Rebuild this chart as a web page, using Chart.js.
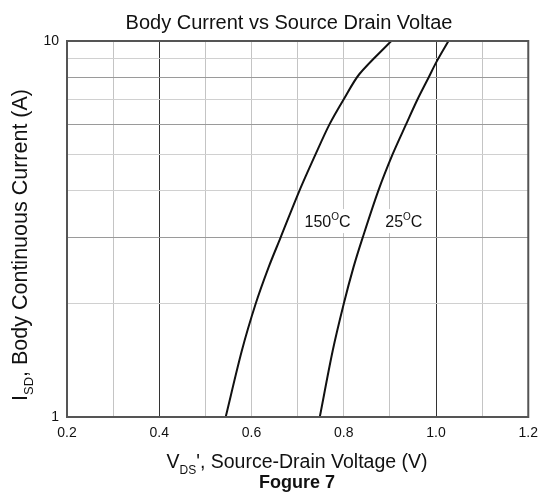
<!DOCTYPE html>
<html>
<head>
<meta charset="utf-8">
<script src="https://cdn.jsdelivr.net/npm/chart.js@4/dist/chart.umd.min.js"></script>
<style>
html,body{margin:0;padding:0;background:#fff;}
#wrap{width:546px;height:494px;}
</style>
</head>
<body>
<div id="wrap"><canvas id="c" width="546" height="494"></canvas></div>
<script>
// Data
const v150 = [0.544, 0.579, 0.609, 0.637, 0.663, 0.704, 0.739, 0.769, 0.800, 0.834, 0.903];
const i150 = [1.0,   1.5,   2.0,   2.5,   3.0,   4.0,   5.0,   6.0,   7.0,   8.17,  10.0];
const v25  = [0.748, 0.776, 0.800, 0.821, 0.841, 0.875, 0.906, 0.935, 0.960, 0.984, 1.001, 1.027];
const i25  = [1.0,   1.5,   2.0,   2.5,   3.0,   4.0,   5.0,   6.0,   7.0,   8.0,   8.8,   10.0];
const seriesLabels = ['150', '25'];
const xTickLabels = ['0.2', '0.4', '0.6', '0.8', '1.0', '1.2'];
const yGridValues = [1, 2, 3, 4, 5, 6, 7, 8, 9, 10];
const yTickLabels = ['1', '10'];
const titleText = 'Body Current vs Source Drain Voltae';
const captionText = 'Fogure 7';

const FONT = '"Liberation Sans", Arial, sans-serif';

function pts(xs, ys) { return xs.map((x, k) => ({x: x, y: ys[k]})); }

function drawSubText(ctx, parts, x, y, size, align) {
  let w = 0;
  parts.forEach(p => {
    ctx.font = (p.sub ? Math.round(size * 0.62) : size) + 'px ' + FONT;
    p.w = ctx.measureText(p.t).width;
    w += p.w;
  });
  let cx = align === 'center' ? x - w / 2 : x;
  parts.forEach(p => {
    ctx.font = (p.sub ? Math.round(size * 0.62) : size) + 'px ' + FONT;
    ctx.textAlign = 'left';
    ctx.textBaseline = 'alphabetic';
    ctx.fillText(p.t, cx, y + (p.sub ? size * 0.3 : 0));
    cx += p.w;
  });
}

function drawTempLabel(ctx, num, cxLeft, baseY, size) {
  ctx.font = size + 'px ' + FONT;
  const w1 = ctx.measureText(num).width;
  ctx.font = Math.round(size * 0.6) + 'px ' + FONT;
  const w2 = ctx.measureText('O').width;
  ctx.font = size + 'px ' + FONT;
  const w3 = ctx.measureText('C').width;
  const tw = w1 + w2 + w3;
  ctx.fillStyle = '#fff';
  ctx.fillRect(cxLeft - 5, baseY - size - 2, tw + 10, size + 8);
  ctx.fillStyle = '#111';
  ctx.textAlign = 'left';
  ctx.textBaseline = 'alphabetic';
  ctx.font = size + 'px ' + FONT;
  ctx.fillText(num, cxLeft, baseY);
  ctx.font = Math.round(size * 0.6) + 'px ' + FONT;
  ctx.fillText('O', cxLeft + w1, baseY - size * 0.42);
  ctx.font = size + 'px ' + FONT;
  ctx.fillText('C', cxLeft + w1 + w2, baseY);
}

const decor = {
  id: 'decor',
  beforeDatasetsDraw(chart) {
    const ctx = chart.ctx;
    const xs = chart.scales.x, ys = chart.scales.y;
    ctx.save();
    drawTempLabel(ctx, seriesLabels[0], xs.getPixelForValue(0.715), ys.getPixelForValue(3.2), 16);
    drawTempLabel(ctx, seriesLabels[1], xs.getPixelForValue(0.890), ys.getPixelForValue(3.2), 16);
    ctx.restore();
  },
  afterDraw(chart) {
    const ctx = chart.ctx;
    const a = chart.chartArea;
    ctx.save();
    ctx.strokeStyle = '#555';
    ctx.lineWidth = 2;
    ctx.strokeRect(a.left, a.top, a.right - a.left, a.bottom - a.top);
    ctx.fillStyle = '#111';
    ctx.font = '20px ' + FONT;
    ctx.textAlign = 'center';
    ctx.textBaseline = 'middle';
    ctx.fillText(titleText, 289, 23);
    ctx.fillStyle = '#111';
    drawSubText(ctx, [{t: 'V'}, {t: 'DS', sub: true}, {t: "', Source-Drain Voltage (V)"}], 297, 468, 19.5, 'center');
    ctx.font = 'bold 18px ' + FONT;
    ctx.textAlign = 'center';
    ctx.textBaseline = 'middle';
    ctx.fillText(captionText, 297, 483);
    ctx.save();
    ctx.translate(27, 245);
    ctx.rotate(-Math.PI / 2);
    drawSubText(ctx, [{t: 'I'}, {t: 'SD', sub: true}, {t: ', Body Continuous Current (A)'}], 0, 0, 21.5, 'center');
    ctx.restore();
    ctx.restore();
  }
};

new Chart(document.getElementById('c'), {
  type: 'scatter',
  data: {
    datasets: [
      { label: seriesLabels[0], data: pts(v150, i150), showLine: true, borderColor: '#111', borderWidth: 2, pointRadius: 0, tension: 0.3, fill: false },
      { label: seriesLabels[1], data: pts(v25, i25), showLine: true, borderColor: '#111', borderWidth: 2, pointRadius: 0, tension: 0.3, fill: false }
    ]
  },
  options: {
    responsive: false,
    animation: false,
    devicePixelRatio: 1,
    layout: { padding: { left: 0, top: 41, right: 17, bottom: 0 } },
    plugins: { legend: { display: false }, tooltip: { enabled: false }, title: { display: false } },
    scales: {
      x: {
        type: 'linear', min: 0.2, max: 1.2,
        afterFit(s) { s.height = 77; },
        border: { display: false },
        grid: {
          drawTicks: false,
          lineWidth: 1,
          color(ctx) {
            const v = Math.round(ctx.tick.value * 10);
            return (v === 4 || v === 10) ? '#333' : '#c4c4c4';
          }
        },
        ticks: {
          stepSize: 0.1, padding: 8, color: '#111', maxRotation: 0, autoSkip: false,
          font: { family: FONT, size: 14 },
          callback(v) {
            const r = Math.round(v * 10);
            return r % 2 === 0 ? xTickLabels[(r - 2) / 2] : '';
          }
        }
      },
      y: {
        type: 'logarithmic', min: 1, max: 10,
        afterFit(s) { s.width = 67; },
        afterBuildTicks(s) { s.ticks = yGridValues.map(v => ({value: v})); },
        border: { display: false },
        grid: {
          drawTicks: false,
          lineWidth: 1,
          color(ctx) {
            const v = Math.round(ctx.tick.value);
            return (v === 3 || v === 6 || v === 8) ? '#9a9a9a' : '#d0d0d0';
          }
        },
        ticks: {
          padding: 8, color: '#111', autoSkip: false,
          font: { family: FONT, size: 14 },
          callback(v) {
            if (Math.abs(v - 1) < 1e-9) return yTickLabels[0];
            if (Math.abs(v - 10) < 1e-9) return yTickLabels[1];
            return '';
          }
        }
      }
    }
  },
  plugins: [decor]
});
</script>
</body>
</html>
